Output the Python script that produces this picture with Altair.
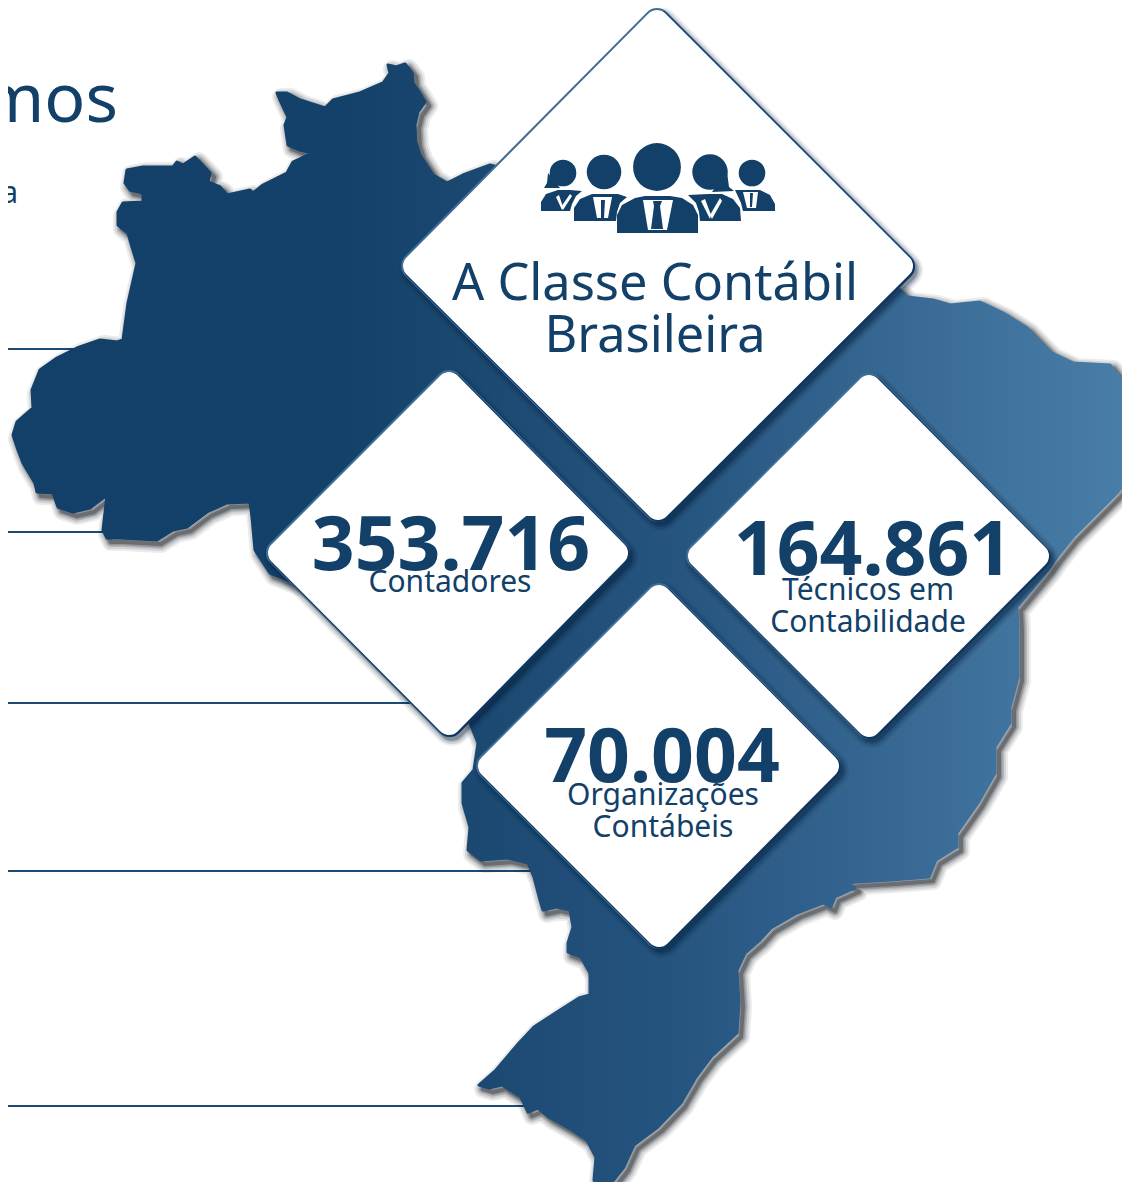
import altair as alt

NAVY = "#124068"

map_outline = [
 [388,65],[396,67],[405,64],[412,73],[413,83],[419,92],[425,102],[418,112],[415,125],[416,142],[420,155],[433,175],[447,183],[463,175],[490,165],
 [620,200],[900,290],[907,297],[933,300],[950,305],[980,302],[1003,313],[1027,328],[1050,352],[1073,363],
 [1110,365],[1122,380],[1125,397],[1135,405],[1136,460],[1130,477],[1117,493],[1093,517],[1073,537],[1057,557],
 [1048,570],[1027,595],[1017,607],[1018,627],[1018,677],[1010,707],[1010,723],[995,747],[995,773],[978,803],
 [957,833],[957,847],[936,860],[929,877],[891,880],[857,882],[848,883],[855,888],[835,897],[831,907],[823,903],
 [797,913],[771,928],[760,940],[745,953],[737,970],[739,1003],[737,1033],[711,1057],[696,1077],[681,1103],
 [658,1127],[634,1145],[624,1167],[602,1195],[594,1180],[596,1157],[587,1140],[572,1130],[549,1117],[538,1108],
 [528,1112],[521,1097],[502,1085],[489,1088],[479,1085],[496,1070],[519,1043],[534,1027],[557,1012],[579,998],
 [590,995],[590,973],[581,957],[568,952],[568,943],[573,927],[570,910],[557,907],[543,910],[540,900],[534,877],
 [528,863],[508,858],[481,860],[468,850],[470,827],[463,803],[463,783],[474,770],[478,743],[470,723],[440,640],
 [270,573],[255,550],[252,517],[250,502],[227,503],[207,512],[187,527],[173,530],[157,540],[120,538],[107,538],
 [103,530],[107,495],[90,508],[73,512],[58,507],[53,493],[37,492],[35,483],[23,463],[18,450],[13,435],[17,422],
 [33,408],[32,390],[40,370],[57,358],[77,348],[100,340],[117,342],[123,340],[128,303],[137,263],[132,247],
 [128,233],[118,225],[118,212],[123,203],[143,202],[143,193],[130,190],[125,183],[127,170],[143,167],[173,167],
 [177,162],[183,165],[195,157],[210,173],[208,182],[220,187],[227,195],[250,190],[253,193],[263,185],[287,173],
 [293,162],[312,153],[300,150],[288,145],[285,125],[288,117],[280,100],[277,93],[287,93],[300,100],[325,108],
 [333,100],[360,93],[383,83],[390,73],
]

diamond_top = [[657,22],[901,266],[658,508],[415,266]]
diamond_left = [[449,384],[616,553],[449,723],[280,553]]
diamond_right = [[869,387],[1037,556],[869,725],[700,556]]
diamond_bottom = [[659,597],[827,766],[659,935],[490,766]]
diamonds = [diamond_top, diamond_left, diamond_right, diamond_bottom]

rule_y = [349, 532, 703, 871, 1106]
rule_x_end = [80, 110, 420, 540, 530]

head_x = [563, 604, 657, 710, 752]
head_y = [173, 172, 167, 172, 173]
head_area = [707, 1195, 2290, 1257, 707]

icon_dark = [
 [[548,173],[547,183],[544,188],[560,188]],
 [[727,172],[729,187],[734,191],[712,192]],
 [[541,211],[541,202],[546,194],[558,190],[570,190],[582,191],[576,196],[572,204],[570,211]],
 [[574,221],[574,208],[580,199],[592,194],[618,194],[627,197],[620,203],[617,212],[616,221]],
 [[617,233],[617,215],[622,205],[635,198],[645,196],[670,196],[682,198],[693,205],[698,215],[698,233]],
 [[688,195],[708,194],[722,194],[733,199],[740,208],[741,221],[700,221],[699,212],[696,203]],
 [[735,190],[745,190],[760,190],[770,195],[775,204],[775,211],[743,211],[741,203]],
]
icon_white = [
 [[643,200],[673,200],[667,230],[648,230]],
 [[593,197],[612,197],[608,218],[597,218]],
 [[743,192],[758,192],[756,208],[747,208]],
 [[556,197],[559,195],[563,207],[562,210]],
 [[570,194],[572,196],[563,210],[561,207]],
 [[701,201],[705,199],[711,215],[710,219]],
 [[720,198],[722,201],[712,219],[710,215]],
]
icon_ties = [
 [[653,201],[662,201],[660,206],[663,229],[651,229],[654,206]],
 [[601,200],[605,200],[604,218],[601,218]],
 [[750,193],[753,193],[752,207],[750,207]],
]

text_regular = ["mos", "a", "A Classe Contábil", "Brasileira", "Contadores", "Técnicos em", "Contabilidade", "Organizações", "Contábeis"]
text_regular_x = [118, 18, 655, 655, 450, 868, 868, 663, 663]
text_regular_y = [122, 203, 300, 352, 592, 600, 632, 805, 837]
text_regular_size = [68, 30, 50.5, 50.5, 30, 30, 30, 30, 30]
text_regular_align = ["right", "right", "center", "center", "center", "center", "center", "center", "center"]

text_bold = ["353.716", "164.861", "70.004"]
text_bold_x = [451, 873, 662]
text_bold_y = [570, 575, 782]
text_bold_size = [75, 75, 75]


def feature(points, dx=0, dy=0):
    ring = [[x + dx, y + dy] for x, y in points]
    ring.append(ring[0])
    return {"type": "Feature", "properties": {}, "geometry": {"type": "Polygon", "coordinates": [ring]}}


def shape(points, dx=0, dy=0, **style):
    return alt.Chart(alt.InlineData(values=[feature(points, dx, dy)])).mark_geoshape(**style)


def rule(y, x_end):
    line = {"type": "Feature", "properties": {},
            "geometry": {"type": "LineString", "coordinates": [[-8, y], [x_end, y]]}}
    return alt.Chart(alt.InlineData(values=[line])).mark_geoshape(filled=False, stroke="#1a4a75", strokeWidth=2)


layers = [rule(y, x) for y, x in zip(rule_y, rule_x_end)]

for w, op in [(18, 0.08), (14, 0.11), (10, 0.15), (7, 0.2), (4, 0.3)]:
    layers.append(shape(map_outline, 4, 4, filled=False, stroke="#0c1218", strokeWidth=w,
                        strokeOpacity=op, strokeJoin="round"))

gradient = alt.Gradient(
    gradient="linear", x1=0, x2=1, y1=0, y2=0,
    stops=[
        alt.GradientStop(color="#124068", offset=0),
        alt.GradientStop(color="#144169", offset=0.3),
        alt.GradientStop(color="#265580", offset=0.6),
        alt.GradientStop(color="#3a6c97", offset=0.82),
        alt.GradientStop(color="#4a7fa9", offset=1),
    ],
)
layers.append(shape(map_outline, fill=gradient, stroke=gradient, strokeWidth=3, strokeJoin="round"))

R = 24
for d in diamonds:
    for w, op in [(R + 14, 0.08), (R + 10, 0.12), (R + 6, 0.16), (R + 3, 0.25)]:
        layers.append(shape(d, 3, 4, fill="#031a33", fillOpacity=op, stroke="#031a33", strokeWidth=w,
                            strokeOpacity=op, strokeJoin="round"))
    layers.append(shape(d, 0, 0, fill="#3f6f98", stroke="#3f6f98", strokeWidth=R + 4, strokeJoin="round"))
    layers.append(shape(d, 1, 1, fill="#0e3560", stroke="#0e3560", strokeWidth=R + 2, strokeJoin="round"))
    layers.append(shape(d, 0, 0, fill="white", stroke="white", strokeWidth=R, strokeJoin="round"))

for p in icon_dark:
    layers.append(shape(p, fill=NAVY))
for p in icon_white:
    layers.append(shape(p, fill="white"))
for p in icon_ties:
    layers.append(shape(p, fill=NAVY))

heads = [{"x": x, "y": y, "a": a} for x, y, a in zip(head_x, head_y, head_area)]
layers.append(alt.Chart(alt.InlineData(values=heads)).mark_circle(color=NAVY, opacity=1).encode(
    longitude=alt.Longitude("x:Q"), latitude=alt.Latitude("y:Q"),
    size=alt.Size("a:Q", scale=None, legend=None)))

rows_bold = [{"t": t, "x": x, "y": y, "s": s}
             for t, x, y, s in zip(text_bold, text_bold_x, text_bold_y, text_bold_size)]
layers.append(alt.Chart(alt.InlineData(values=rows_bold)).mark_text(
    align="center", baseline="alphabetic", color=NAVY, font="Noto Sans", fontWeight="bold").encode(
    longitude=alt.Longitude("x:Q"), latitude=alt.Latitude("y:Q"),
    text="t:N", size=alt.Size("s:Q", scale=None, legend=None)))
for align in ["right", "center"]:
    rows = [{"t": t, "x": x, "y": y, "s": s}
            for t, x, y, s, a in zip(text_regular, text_regular_x, text_regular_y, text_regular_size, text_regular_align)
            if a == align]
    layers.append(alt.Chart(alt.InlineData(values=rows)).mark_text(
        align=align, baseline="alphabetic", color=NAVY, font="Noto Sans").encode(
        longitude=alt.Longitude("x:Q"), latitude=alt.Latitude("y:Q"),
        text="t:N", size=alt.Size("s:Q", scale=None, legend=None)))

chart = alt.layer(*layers).project(
    type="identity", scale=1, translate=[-8, -8]
).properties(
    width=1114, height=1174, padding=0, background="white",
    autosize=alt.AutoSizeParams(type="none"),
).configure_view(stroke=None)

chart.save("out.html", embed_options={"renderer": "svg", "actions": False})
